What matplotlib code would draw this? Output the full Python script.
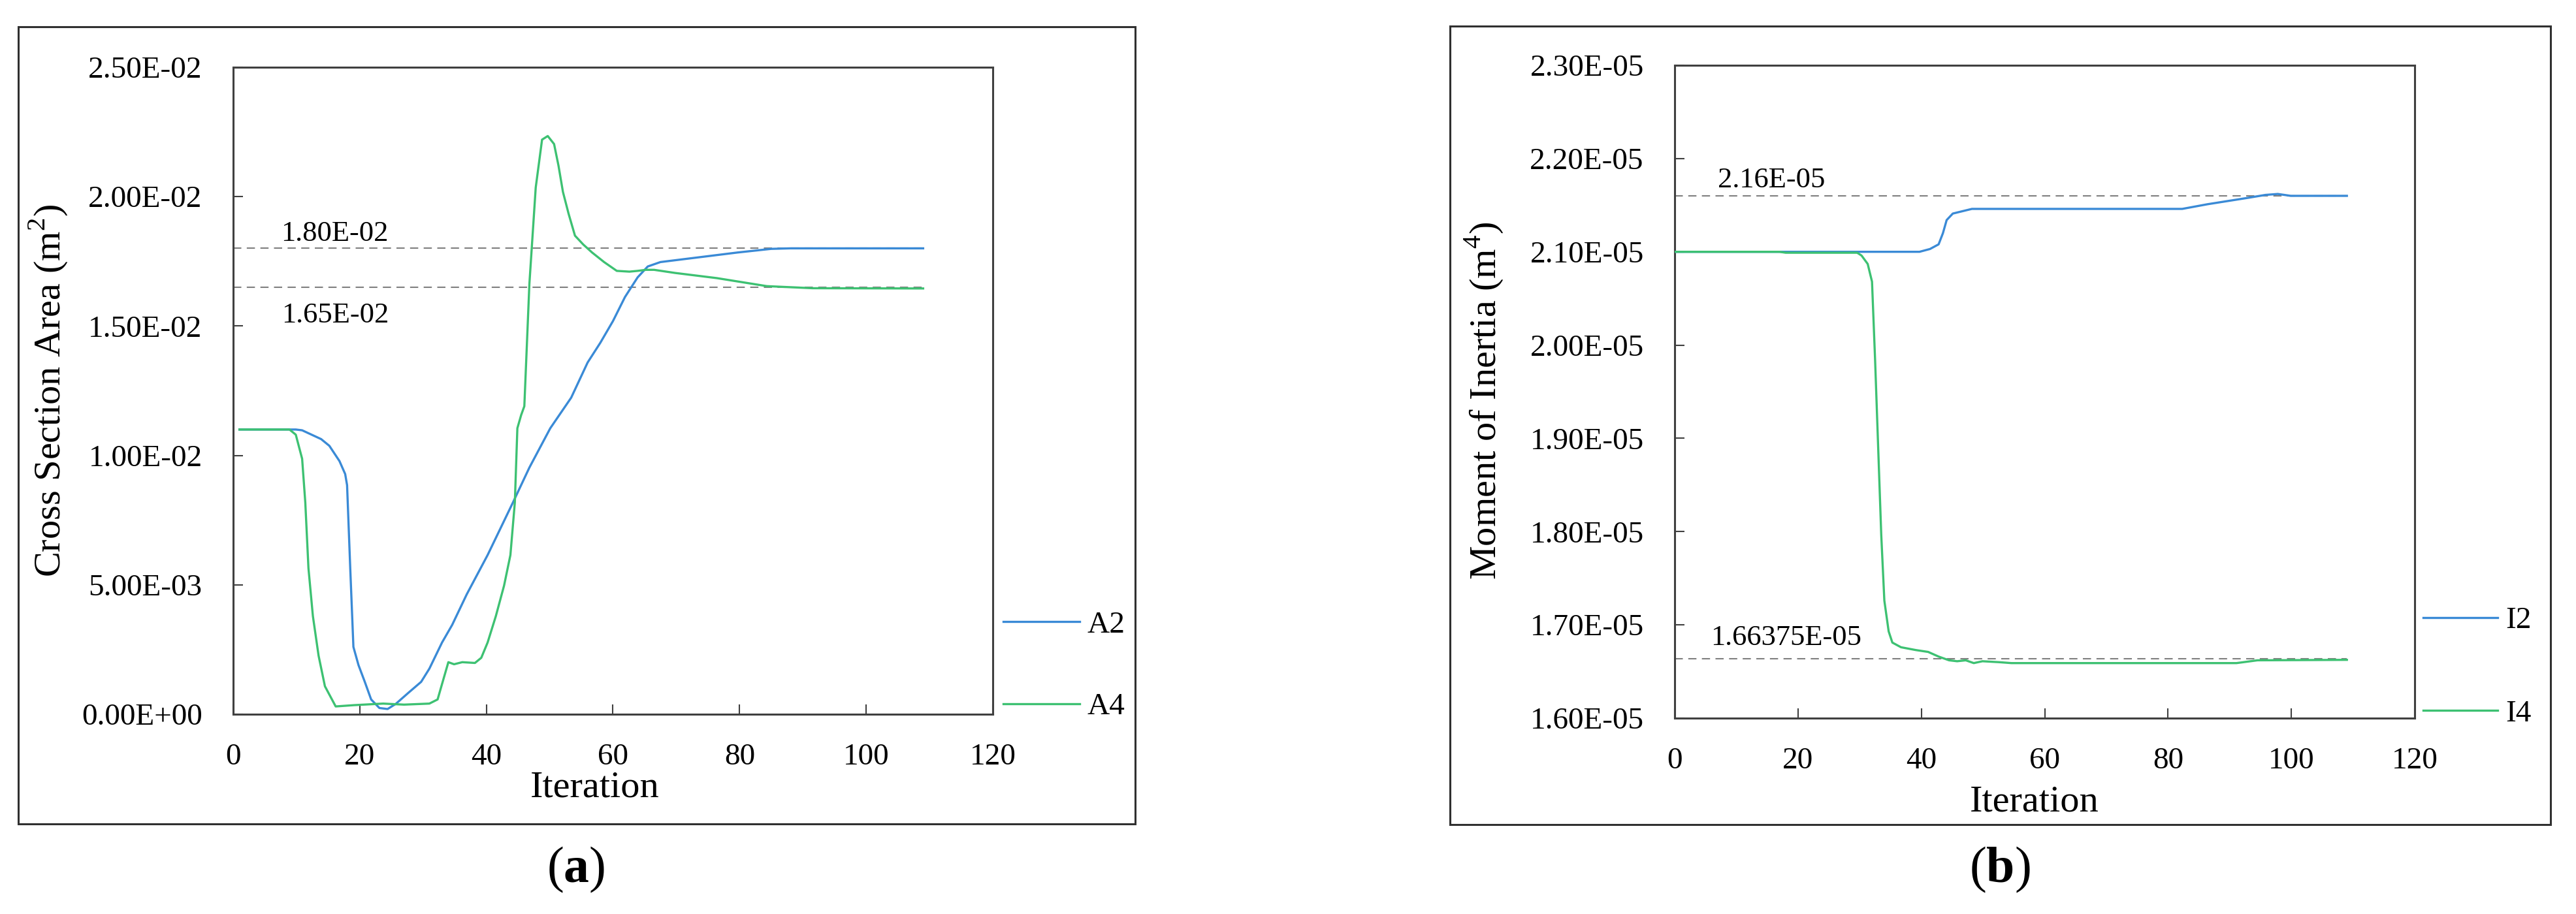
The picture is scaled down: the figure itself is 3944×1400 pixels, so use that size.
import matplotlib
matplotlib.use("Agg")
import numpy as np
import matplotlib.pyplot as plt
from matplotlib.patches import Rectangle
from matplotlib.ticker import FuncFormatter, MultipleLocator

plt.rcParams["font.family"] = ["Liberation Serif", "DejaVu Serif"]
plt.rcParams["mathtext.fontset"] = "custom"
plt.rcParams["mathtext.rm"] = "Liberation Serif"
plt.rcParams["mathtext.bf"] = "Liberation Serif:bold"

# (a) cross section area, in units of 1E-02 m^2
iter_a2 = [1, 9.9, 10.9, 13.9, 15.2, 16.8, 17.7, 18.0, 18.5, 19.0, 19.8, 20.8,
           21.8, 23.1, 24.4, 25.7, 27.7, 29.7, 31.0, 33.0, 34.6, 36.9, 40.2,
           44.2, 46.8, 50.1, 53.4, 56.0, 58.0, 60.0, 61.9, 63.9, 65.5, 67.5,
           73.1, 79.7, 85.0, 88, 109]
area_a2 = [1.10, 1.10, 1.097, 1.063, 1.037, 0.978, 0.928, 0.885, 0.564, 0.26,
           0.19, 0.125, 0.057, 0.024, 0.02, 0.04, 0.083, 0.125, 0.176, 0.277,
           0.345, 0.463, 0.615, 0.818, 0.953, 1.105, 1.223, 1.359, 1.435,
           1.519, 1.612, 1.688, 1.730, 1.747, 1.764, 1.784, 1.798, 1.80, 1.80]

iter_a4 = [1, 8.9, 9.9, 10.9, 11.4, 11.9, 12.6, 13.5, 14.5, 16.2, 19.1, 23.7,
           27.0, 31.0, 32.3, 33.3, 34.0, 34.9, 36.2, 38.2, 39.2, 40.2, 41.5,
           42.8, 43.8, 44.5, 44.9, 45.5, 46.0, 46.8, 47.8, 48.8, 49.7, 50.7,
           51.4, 52.1, 53.0, 54.0, 55.3, 56.7, 58.6, 60.6, 62.6, 63.9, 65.2,
           66.5, 69.8, 76.4, 84.3, 91.5, 109]
area_a4 = [1.10, 1.10, 1.08, 0.987, 0.818, 0.564, 0.379, 0.226, 0.108, 0.030,
           0.035, 0.041, 0.037, 0.041, 0.057, 0.142, 0.201, 0.193, 0.201,
           0.198, 0.218, 0.277, 0.379, 0.497, 0.615, 0.818, 1.105, 1.156,
           1.19, 1.663, 2.035, 2.22, 2.234, 2.203, 2.119, 2.018, 1.933, 1.849,
           1.815, 1.784, 1.747, 1.713, 1.710, 1.713, 1.717, 1.717, 1.705,
           1.685, 1.654, 1.646, 1.645]

# (b) moment of inertia, in units of 1E-05 m^4
iter_i2 = [0, 39.7, 41.4, 42.8, 43.5, 44.1, 45.1, 48.2, 82.3, 86.4, 93.1,
           95.8, 97.8, 99.9, 109]
inertia_i2 = [2.100, 2.100, 2.103, 2.108, 2.12, 2.134, 2.141, 2.146, 2.146,
              2.151, 2.158, 2.161, 2.162, 2.160, 2.160]

iter_i4 = [0, 17, 18, 29.6, 30.3, 31.3, 32.0, 32.5, 33.0, 33.5, 34.0, 34.7,
           35.3, 36.7, 39.1, 41.1, 42.8, 44.5, 45.8, 47.2, 48.5, 49.9, 52.6,
           54.6, 91.1, 94.5, 109]
inertia_i4 = [2.100, 2.100, 2.099, 2.099, 2.096, 2.087, 2.068, 1.984, 1.89,
              1.796, 1.726, 1.693, 1.681, 1.676, 1.673, 1.671, 1.666, 1.662,
              1.661, 1.662, 1.659, 1.661, 1.660, 1.659, 1.659, 1.662, 1.6625]

# target values drawn as dashed reference lines
targets_a = [1.80e-2, 1.65e-2]
targets_b = [2.16e-5, 1.66375e-5]
target_labels_a = ["1.80E-02", "1.65E-02"]
target_labels_b = ["2.16E-05", "1.66375E-05"]

BLUE = "#3a8ad6"
GREEN = "#3dc172"
SPINE = "#404040"


def style_axes(ax, ylim, ystep, ylabel, ylabel_xy, xlabel_xy):
    """Excel-like axes: inward ticks, E-notation labels, full box."""
    ax.set_xlim(0, 120)
    ax.set_ylim(*ylim)
    ax.xaxis.set_major_locator(MultipleLocator(20))
    ax.yaxis.set_major_locator(MultipleLocator(ystep))
    ax.yaxis.set_major_formatter(FuncFormatter(lambda v, _: f"{v:.2E}"))
    ax.tick_params(axis="both", direction="in", length=10.8, width=1.5,
                   colors=SPINE, labelcolor="black", labelsize=34)
    ax.tick_params(axis="y", pad=34)
    ax.tick_params(axis="x", pad=32)
    for spine in ax.spines.values():
        spine.set_linewidth(2.2)
        spine.set_color(SPINE)
    ax.set_ylabel(ylabel, fontsize=42, va="center")
    ax.yaxis.set_label_coords(*ylabel_xy)
    ax.set_xlabel("Iteration", fontsize=42, va="baseline")
    ax.xaxis.set_label_coords(*xlabel_xy)


def draw_targets(ax, targets, labels, text_pos, x_end):
    for value, label, (tx, ty) in zip(targets, labels, text_pos):
        ax.plot([0, x_end], [value, value], color="#7f7f7f", lw=1.5,
                dashes=(6, 4), zorder=1)
        ax.text(tx, ty, label, fontsize=32, ha="left", va="baseline")


fig = plt.figure(figsize=(39.44, 14), dpi=100)

# outer frames around each panel
for rect in [(0.0071, 0.0986, 0.4336, 0.8721), (0.5629, 0.0979, 0.4272, 0.8736)]:
    fig.add_artist(Rectangle(rect[:2], rect[2], rect[3], fill=False,
                             lw=2.2, edgecolor="#303030",
                             transform=fig.transFigure))

# panel (a)
ax1 = fig.add_axes([0.0905, 0.2186, 0.2949, 0.7079])
ax1.plot(iter_a2, np.array(area_a2) * 1e-2, color=BLUE, lw=2.4, label="A2", zorder=3)
ax1.plot(iter_a4, np.array(area_a4) * 1e-2, color=GREEN, lw=2.4, label="A4", zorder=3)
draw_targets(ax1, targets_a, target_labels_a,
             [(7.6, 0.01829), (7.7, 0.01514)], iter_a2[-1])
style_axes(ax1, (0, 0.025), 0.005, "Cross Section Area (m$^{2}$)",
           (-0.2433, 0.5), (0.476, -0.128))
ax1.legend(loc="center left", bbox_to_anchor=(1.0138, 0.0747), frameon=False,
           fontsize=34, handlelength=2.47, handletextpad=0.25,
           labelspacing=1.75, borderpad=0, borderaxespad=0)

# panel (b)
ax2 = fig.add_axes([0.6501, 0.2143, 0.2873, 0.7143])
ax2.plot(iter_i2, np.array(inertia_i2) * 1e-5, color=BLUE, lw=2.4, label="I2", zorder=3)
ax2.plot(iter_i4, np.array(inertia_i4) * 1e-5, color=GREEN, lw=2.4, label="I4", zorder=3)
draw_targets(ax2, targets_b, target_labels_b,
             [(7.0, 2.1691e-5), (5.8, 1.6784e-5)], iter_i2[-1])
style_axes(ax2, (1.6e-5, 2.3e-5), 0.1e-5, "Moment of Inertia (m$^{4}$)",
           (-0.2577, 0.486), (0.486, -0.143))
ax2.legend(loc="center left", bbox_to_anchor=(1.0115, 0.078), frameon=False,
           fontsize=34, handlelength=2.42, handletextpad=0.25,
           labelspacing=2.1, borderpad=0, borderaxespad=0)

# panel captions
fig.text(882 / 3944, 1 - 1332 / 1400, "($\\mathbf{a}$)", fontsize=56,
         ha="center", va="center")
fig.text(3062 / 3944, 1 - 1332 / 1400, "($\\mathbf{b}$)", fontsize=56,
         ha="center", va="center")

fig.savefig("out.png", dpi=100, facecolor="white")
